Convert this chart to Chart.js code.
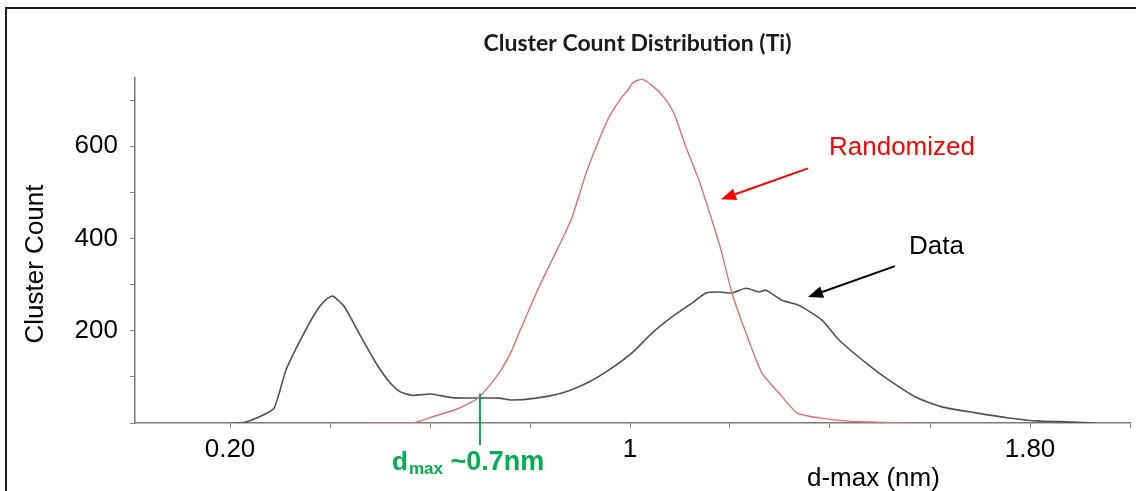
<!DOCTYPE html>
<html>
<head>
<meta charset="utf-8">
<script src="https://cdn.jsdelivr.net/npm/chart.js@4.4.1/dist/chart.umd.min.js"></script>
<style>
  html, body { margin: 0; padding: 0; background: #fff; }
  #wrap { position: relative; width: 1136px; height: 491px; overflow: hidden; }
  #frame { position: absolute; left: 5px; top: 7px; width: 1200px; height: 600px;
           border-left: 2px solid #1c1c1c; border-top: 2px solid #1c1c1c; pointer-events: none; }
  canvas { position: absolute; left: 0; top: 0; }
</style>
</head>
<body>
<div id="wrap">
  <canvas id="clusterChart" width="1136" height="491"></canvas>
  <div id="frame"></div>
</div>
<script>
// d-max (nm) and cluster counts for the measured data
const dataX = [0.21, 0.224, 0.258, 0.288, 0.312, 0.348, 0.378, 0.395, 0.406, 0.428, 0.458, 0.492,
  0.518, 0.54, 0.564, 0.602, 0.644, 0.698, 0.738, 0.764, 0.812, 0.864, 0.918, 0.958, 1.004,
  1.044, 1.084, 1.124, 1.152, 1.178, 1.204, 1.232, 1.258, 1.272, 1.304, 1.338, 1.384, 1.418,
  1.478, 1.518, 1.572, 1.624, 1.692, 1.758, 1.818, 1.858, 1.93];
const dataY = [0, 0, 13, 32, 115, 195, 251, 270, 275, 253, 195, 130,
  90, 68, 60, 63, 55, 54, 54, 50, 54, 65, 89, 115, 152,
  195, 230, 260, 282, 284, 282, 292, 284, 288, 266, 255, 223, 180,
  125, 93, 56, 35, 22, 11, 4, 3, 0];

// randomized reference distribution
const randX = [0.478, 0.564, 0.598, 0.658, 0.698, 0.738, 0.764, 0.778, 0.818, 0.844, 0.882,
  0.912, 0.932, 0.958, 0.982, 0.996, 1.006, 1.024, 1.044, 1.068, 1.088, 1.112, 1.138, 1.162,
  1.182, 1.204, 1.232, 1.264, 1.298, 1.334, 1.378, 1.438, 1.55];
const randY = [0, 0, 11, 32, 56, 108, 158, 195, 295, 353, 440,
  541, 598, 663, 704, 722, 738, 745, 732, 706, 671, 598, 526, 446,
  375, 282, 195, 108, 65, 22, 11, 4, 0];

const xTicks = [0.2, 0.4, 0.6, 0.8, 1.0, 1.2, 1.4, 1.6, 1.8, 2.0];
const xTickLabels = ['0.20', '', '', '', '1', '', '', '', '1.80', ''];
const yTicks = [0, 100, 200, 300, 400, 500, 600, 700];
const yTickLabels = ['', '', '200', '', '400', '', '600', ''];

const DMAX = 0.7;
const FONT = "'Liberation Sans', Arial, sans-serif";

const toPoints = (xs, ys) => xs.map((x, i) => ({ x: x, y: ys[i] }));

function arrow(ctx, x0, y0, x1, y1, color) {
  const ang = Math.atan2(y1 - y0, x1 - x0);
  const head = 15, half = 6;
  const bx = x1 - head * Math.cos(ang), by = y1 - head * Math.sin(ang);
  ctx.strokeStyle = color;
  ctx.fillStyle = color;
  ctx.lineWidth = 2;
  ctx.beginPath();
  ctx.moveTo(x0, y0);
  ctx.lineTo(bx, by);
  ctx.stroke();
  ctx.beginPath();
  ctx.moveTo(x1, y1);
  ctx.lineTo(bx + half * Math.sin(ang), by - half * Math.cos(ang));
  ctx.lineTo(bx - half * Math.sin(ang), by + half * Math.cos(ang));
  ctx.closePath();
  ctx.fill();
}

// title, axis names, labels with arrows and the d_max marker
const notes = {
  id: 'notes',
  afterDraw(chart) {
    const { ctx, chartArea: area, scales: { x, y } } = chart;
    ctx.save();

    ctx.fillStyle = '#1a1a1a';
    ctx.font = "bold 23px Lato, 'Open Sans', sans-serif";
    ctx.textAlign = 'center';
    ctx.textBaseline = 'middle';
    ctx.fillText('Cluster Count Distribution (Ti)', (area.left + area.right) / 2 + 5, 44);

    ctx.save();
    ctx.translate(36, 264);
    ctx.rotate(-Math.PI / 2);
    ctx.fillStyle = '#000';
    ctx.font = '26px ' + FONT;
    ctx.fillText('Cluster Count', 0, 0);
    ctx.restore();

    ctx.fillStyle = '#000';
    ctx.font = '26px ' + FONT;
    ctx.textAlign = 'left';
    ctx.fillText('d-max (nm)', x.getPixelForValue(1.354), area.bottom + 56);

    ctx.fillStyle = '#ff0000';
    ctx.fillText('Randomized', x.getPixelForValue(1.398), y.getPixelForValue(596));
    arrow(ctx, x.getPixelForValue(1.356), y.getPixelForValue(552),
      x.getPixelForValue(1.182), y.getPixelForValue(485), '#ff0000');

    ctx.fillStyle = '#000';
    ctx.fillText('Data', x.getPixelForValue(1.558), y.getPixelForValue(383));
    arrow(ctx, x.getPixelForValue(1.53), y.getPixelForValue(340),
      x.getPixelForValue(1.356), y.getPixelForValue(273), '#000');

    // d_max marker
    const gx = x.getPixelForValue(DMAX);
    ctx.strokeStyle = '#00b050';
    ctx.lineWidth = 2;
    ctx.beginPath();
    ctx.moveTo(gx, y.getPixelForValue(64));
    ctx.lineTo(gx, area.bottom + 22);
    ctx.stroke();

    ctx.fillStyle = '#00b050';
    ctx.textBaseline = 'alphabetic';
    let tx = x.getPixelForValue(0.524);
    const base = area.bottom + 47;
    ctx.font = 'bold 26px ' + FONT;
    ctx.fillText('d', tx, base);
    tx += ctx.measureText('d').width + 1;
    ctx.font = 'bold 17px ' + FONT;
    ctx.fillText('max', tx, base + 4);
    tx += ctx.measureText('max').width;
    ctx.font = 'bold 27px ' + FONT;
    ctx.fillText(' ~0.7nm', tx, base);

    ctx.restore();
  }
};

new Chart(document.getElementById('clusterChart'), {
  type: 'line',
  data: {
    datasets: [
      {
        label: 'Randomized',
        data: toPoints(randX, randY),
        borderColor: '#de6f72',
        borderWidth: 1.4,
        pointRadius: 0,
        tension: 0.2
      },
      {
        label: 'Data',
        data: toPoints(dataX, dataY),
        borderColor: '#505050',
        borderWidth: 1.6,
        pointRadius: 0,
        tension: 0.2
      }
    ]
  },
  options: {
    responsive: false,
    animation: false,
    devicePixelRatio: 1,
    layout: { padding: { top: 78, right: 6, left: 0, bottom: 0 } },
    scales: {
      x: {
        type: 'linear',
        min: 0.01,
        max: 2.0,
        afterBuildTicks: s => { s.ticks = xTicks.map(v => ({ value: v })); },
        afterFit: s => { s.height = 68; },
        ticks: {
          autoSkip: false,
          maxRotation: 0,
          padding: 6,
          color: '#000',
          font: { size: 26, family: FONT },
          callback: (v, i) => xTickLabels[i]
        },
        grid: { drawOnChartArea: false, tickLength: 5, color: '#808080' },
        border: { color: '#7a7a7a', width: 1.5 }
      },
      y: {
        min: 0,
        max: 748,
        afterBuildTicks: s => { s.ticks = yTicks.map(v => ({ value: v })); },
        afterFit: s => { s.width = 135; },
        ticks: {
          autoSkip: false,
          padding: 12,
          color: '#000',
          font: { size: 26, family: FONT },
          callback: (v, i) => yTickLabels[i]
        },
        grid: { drawOnChartArea: false, tickLength: 5, color: '#808080' },
        border: { color: '#7a7a7a', width: 1.5 }
      }
    },
    plugins: {
      legend: { display: false },
      tooltip: { enabled: false }
    }
  },
  plugins: [notes]
});
</script>
</body>
</html>
